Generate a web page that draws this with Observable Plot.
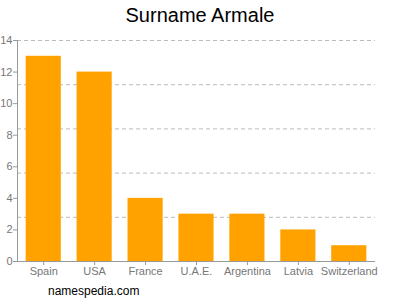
<!DOCTYPE html>
<html>
<head>
<meta charset="utf-8">
<script src="https://cdn.jsdelivr.net/npm/d3@7"></script>
<script src="https://cdn.jsdelivr.net/npm/@observablehq/plot@0.6"></script>
<style>
  body { margin: 0; background: #fff; font-family: "Liberation Sans", Arial, sans-serif; }
  #wrap { position: relative; width: 400px; height: 300px; }
  #title { position: absolute; left: 0; top: 2px; width: 400px; text-align: center; font-size: 20px; line-height: 26px; color: #000; }
  #chart { position: absolute; left: 0; top: 30px; }
  #caption { position: absolute; left: 48px; top: 283px; font-size: 12px; line-height: 16px; color: #000; }
</style>
</head>
<body>
<div id="wrap">
  <div id="title">Surname Armale</div>
  <div id="chart"></div>
  <div id="caption">namespedia.com</div>
</div>
<script>
const countries = ["Spain", "USA", "France", "U.A.E.", "Argentina", "Latvia", "Switzerland"];
const counts = [13, 12, 4, 3, 3, 2, 1];
const yTicks = [0, 2, 4, 6, 8, 10, 12, 14];
const yMax = 14;
const gridLines = [2.8, 5.6, 8.4, 11.2, 14];

const data = countries.map((c, i) => ({country: c, count: counts[i]}));

const chart = Plot.plot({
  width: 400,
  height: 251,
  marginTop: 10,
  marginBottom: 20,
  marginLeft: 17,
  marginRight: 25,
  style: {fontFamily: "Liberation Sans, Arial, sans-serif", fontSize: "11px", color: "#777"},
  x: {domain: countries, paddingInner: 0.31, paddingOuter: 0.17, round: false, label: null},
  y: {domain: [0, yMax], ticks: yTicks, label: null},
  marks: [
    Plot.ruleY(gridLines, {stroke: "#bbb", strokeDasharray: "4,3", strokeWidth: 1}),
    Plot.barY(data, {x: "country", y: "count", fill: "#ffa200"}),
    Plot.axisY({ticks: yTicks, tickSize: 4, tickPadding: 1, stroke: "#999", fill: "#777", fontSize: 11, label: null}),
    Plot.axisX({tickSize: 4, tickPadding: 2, stroke: "#999", fill: "#777", fontSize: 11, label: null}),
    Plot.frame({anchor: "left", stroke: "#999"}),
    Plot.ruleY([0], {stroke: "#999"}),
  ]
});
document.getElementById("chart").appendChild(chart);
</script>
</body>
</html>
